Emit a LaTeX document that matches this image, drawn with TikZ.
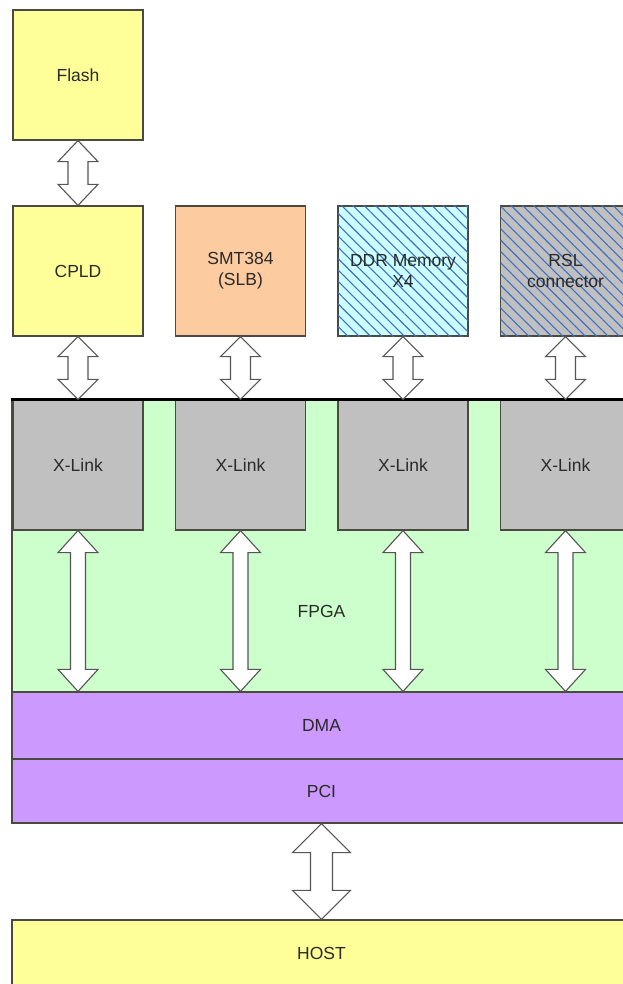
\documentclass[tikz,border=0pt]{standalone}
\usepackage{fontspec}
\setmainfont{Liberation Sans}
\usetikzlibrary{calc,patterns.meta}
\definecolor{yellowbox}{HTML}{FFFF99}
\definecolor{peachbox}{HTML}{FCCB9F}
\definecolor{cyanbox}{HTML}{CCFFFF}
\definecolor{graybox}{HTML}{C0C0C0}
\definecolor{greenbox}{HTML}{CCFFCC}
\definecolor{purplebox}{HTML}{CC99FF}
\definecolor{hatchblue}{HTML}{3F6FC4}
\definecolor{edgecol}{HTML}{4A4A40}
\definecolor{arrowedge}{HTML}{555555}
\definecolor{txt}{HTML}{2A2A2A}
\newcommand{\dbarrow}[5]{%
  \path[arrowshape] let \p1=(#1), \p2=(#2) in
    (\x1,\y1) -- (\x1+#3/2,\y1-#5) -- (\x1+#4/2,\y1-#5) -- (\x1+#4/2,\y2+#5)
    -- (\x1+#3/2,\y2+#5) -- (\x1,\y2) -- (\x1-#3/2,\y2+#5) -- (\x1-#4/2,\y2+#5)
    -- (\x1-#4/2,\y1-#5) -- (\x1-#3/2,\y1-#5) -- cycle;}
\begin{document}
\begin{tikzpicture}[x=1pt,y=-1pt,
  lbl/.style={text=txt, align=center, inner sep=0pt, font=\fontsize{17.5}{21}\selectfont},
  box/.style={lbl, draw=edgecol, line width=1.2pt, minimum width=130pt, minimum height=130pt},
  yel/.style={box, fill=yellowbox},
  bar/.style={lbl, draw=edgecol, line width=1.2pt, minimum width=619pt},
  hatch/.style={postaction={pattern={Lines[angle=-45,distance=8pt,line width=1.1pt]},
    pattern color=hatchblue}},
  arrowshape/.style={fill=white, draw=arrowedge, line width=1.1pt, line join=miter}]
\useasboundingbox (0,0) rectangle (623,984);
% FPGA background
\node[draw=edgecol, line width=1.2pt, fill=greenbox, minimum width=619pt, minimum height=292pt,
  inner sep=0pt] (fpga) at (321.5,546) {};
\node[lbl] (fpgat) at (321.5,611) {FPGA};
% top boxes
\node[yel] (flash) at (78,75) {Flash};
\node[yel] (cpld) at (78,271) {CPLD};
\node[box, fill=peachbox] (smt) at (240.5,271) {SMT384\\(SLB)};
\node[box, fill=cyanbox, hatch] (ddr) at (403,271) {};
\node[lbl] (ddrt) at (ddr) {DDR Memory\\X4};
\node[box, fill=graybox, hatch] (rsl) at (565.5,271) {};
\node[lbl] (rslt) at (rsl) {RSL\\connector};
% X-Link boxes
\node[box, fill=graybox] (x1) at (78,465) {X-Link};
\node[box, fill=graybox] (x2) at (240.5,465) {X-Link};
\node[box, fill=graybox] (x3) at (403,465) {X-Link};
\node[box, fill=graybox] (x4) at (565.5,465) {X-Link};
\draw[black, line width=2.2pt] (fpga.north west) -- (fpga.north east);
% DMA / PCI / HOST
\node[bar, fill=purplebox, minimum height=67pt] (dma) at (321.5,725.5) {DMA};
\node[bar, fill=purplebox, minimum height=64pt] (pci) at (321.5,791) {PCI};
\node[bar, fill=yellowbox, minimum height=66pt] (host) at (321.5,953) {HOST};
% arrows
\dbarrow{flash.south}{cpld.north}{40pt}{20pt}{21pt}
\dbarrow{cpld.south}{x1.north}{40pt}{20pt}{20pt}
\dbarrow{smt.south}{x2.north}{40pt}{20pt}{20pt}
\dbarrow{ddr.south}{x3.north}{40pt}{20pt}{20pt}
\dbarrow{rsl.south}{x4.north}{40pt}{20pt}{20pt}
\path let \p1=(x1.south), \p2=(dma.north) in coordinate (d1) at (\x1,\y2);
\path let \p1=(x2.south), \p2=(dma.north) in coordinate (d2) at (\x1,\y2);
\path let \p1=(x3.south), \p2=(dma.north) in coordinate (d3) at (\x1,\y2);
\path let \p1=(x4.south), \p2=(dma.north) in coordinate (d4) at (\x1,\y2);
\dbarrow{x1.south}{d1}{40pt}{15pt}{22pt}
\dbarrow{x2.south}{d2}{40pt}{15pt}{22pt}
\dbarrow{x3.south}{d3}{40pt}{15pt}{22pt}
\dbarrow{x4.south}{d4}{40pt}{15pt}{22pt}
\dbarrow{pci.south}{host.north}{58pt}{22pt}{29pt}
\end{tikzpicture}
\end{document}
